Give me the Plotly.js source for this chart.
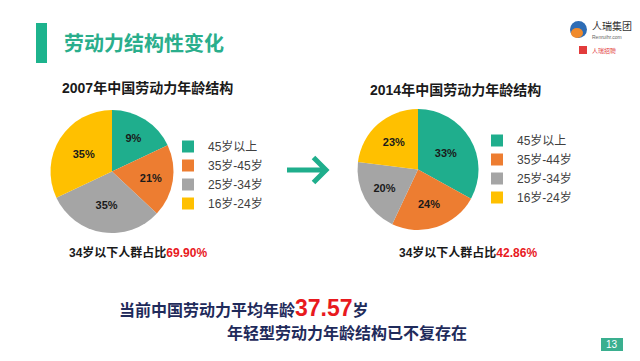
<!DOCTYPE html>
<html>
<head>
<meta charset="utf-8">
<script src="https://cdn.plot.ly/plotly-3.0.1.min.js"></script>
<style>
  html, body { margin: 0; padding: 0; background: #ffffff; }
  #chart { width: 640px; height: 361px; }
</style>
</head>
<body>
<div id="chart"></div>
<script>
// ---- data ----
const pageTitle = '劳动力结构性变化';
const title2007 = '2007年中国劳动力年龄结构';
const title2014 = '2014年中国劳动力年龄结构';
const ageGroups2007 = ['45岁以上', '35岁-45岁', '25岁-34岁', '16岁-24岁'];
const ageGroups2014 = ['45岁以上', '35岁-44岁', '25岁-34岁', '16岁-24岁'];
// slice sizes as drawn in the picture
const share2007 = [18, 19, 31, 32];
const share2014 = [33, 24, 20, 23];
// labels as printed on the slices
const labels2007 = ['9%', '21%', '35%', '35%'];
const labels2014 = ['33%', '24%', '20%', '23%'];
const youngPrefix = '34岁以下人群占比';
const youngShare2007 = '69.90%';
const youngShare2014 = '42.86%';
const avgAgeText = '当前中国劳动力平均年龄';
const avgAge = '37.57';
const ageUnit = '岁';
const conclusion = '年轻型劳动力年龄结构已不复存在';
const pageNumber = '13';

// ---- styles ----
const sliceColors = ['#1fae8d', '#ed7d31', '#a5a5a5', '#ffc000'];
const green = '#2aae8c';
const red = '#e8191e';
const navy = '#1f2b5b';
const FONT = 'Liberation Sans, Arial, Noto Sans CJK SC, sans-serif';
const CJK = 'Noto Sans CJK SC, Liberation Sans, sans-serif';
const W = 640, H = 361;
const px = v => v / W;
const py = v => 1 - v / H;

const pieCommon = {
  type: 'pie',
  sort: false,
  direction: 'clockwise',
  rotation: 0,
  textinfo: 'text',
  textposition: 'inside',
  insidetextorientation: 'horizontal',
  textfont: { family: FONT, size: 11, color: '#1a1a1a', weight: 'bold' },
  marker: { colors: sliceColors, line: { width: 0 } },
  hoverinfo: 'label+text',
  showlegend: true
};

// the second chart gets its own legend entries (zero-width suffix keeps labels distinct)
const legendLabels2014 = ageGroups2014.map(s => s + '\u200b');

const traces = [
  Object.assign({}, pieCommon, {
    labels: ageGroups2007, values: share2007, text: labels2007,
    domain: { x: [px(50.5), px(173.5)], y: [py(233), py(110)] },
    legend: 'legend'
  }),
  Object.assign({}, pieCommon, {
    labels: legendLabels2014, values: share2014, text: labels2014,
    domain: { x: [px(357.5), px(478.5)], y: [py(230), py(109)] },
    legend: 'legend2'
  })
];

const legendCommon = {
  font: { family: FONT, size: 12, color: '#404040' },
  bgcolor: 'rgba(0,0,0,0)',
  xanchor: 'left', yanchor: 'top',
  tracegroupgap: 0
};

const ann = (x, y, text, size, color, opts) => Object.assign({
  xref: 'paper', yref: 'paper', x: px(x), y: py(y), text: text,
  showarrow: false, xanchor: 'left', yanchor: 'middle',
  font: { family: CJK, size: size, color: color }
}, opts || {});

const annotations = [
  ann(62, 43, '<b>' + pageTitle + '</b>', 20, green),
  ann(60, 88, '<b>' + title2007 + '</b>', 14, '#1a1a1a', { font: { family: FONT, size: 14, color: '#1a1a1a' } }),
  ann(368, 90, '<b>' + title2014 + '</b>', 14, '#1a1a1a', { font: { family: FONT, size: 14, color: '#1a1a1a' } }),
  ann(67, 252, '<b>' + youngPrefix + '<span style="color:' + red + '">' + youngShare2007 + '</span></b>', 12, '#1a1a1a', { font: { family: FONT, size: 12, color: '#1a1a1a' } }),
  ann(397, 252, '<b>' + youngPrefix + '<span style="color:' + red + '">' + youngShare2014 + '</span></b>', 12, '#1a1a1a', { font: { family: FONT, size: 12, color: '#1a1a1a' } }),
  ann(117, 308, '<b>' + avgAgeText + '<span style="color:' + red + ';font-size:23px">' + avgAge + '</span>' + ageUnit + '</b>', 16, navy, { font: { family: FONT, size: 16, color: navy } }),
  ann(225, 332, '<b>' + conclusion + '</b>', 16, navy),
  ann(612, 344.5, pageNumber, 10, '#ffffff', { xanchor: 'center', font: { family: FONT, size: 10, color: '#ffffff' } }),
  // logo texts
  ann(590, 25, '人瑞集团', 10, '#333333'),
  ann(590, 37, 'Renruihr.com', 5, '#666666', { font: { family: FONT, size: 5, color: '#666666' } }),
  ann(590, 50, '人瑞招聘', 6, '#e23b3b')
];

const shapes = [
  // title bar
  { type: 'rect', xref: 'paper', yref: 'paper', x0: px(36), x1: px(47), y0: py(63), y1: py(23), fillcolor: '#1db38d', line: { width: 0 } },
  // arrow
  { type: 'path', xref: 'paper', yref: 'paper',
    path: 'M' + px(287) + ',' + py(170) + 'L' + px(325) + ',' + py(170) +
          'M' + px(313.5) + ',' + py(157.5) + 'L' + px(326) + ',' + py(170) + 'L' + px(313.5) + ',' + py(182.5),
    line: { color: '#1fae8c', width: 5 } },
  // page number box
  { type: 'rect', xref: 'paper', yref: 'paper', x0: px(601), x1: px(623), y0: py(351), y1: py(338), fillcolor: '#3aaf8f', line: { width: 0 } },
  // logo icon
  { type: 'circle', xref: 'paper', yref: 'paper', x0: px(570), x1: px(587), y0: py(38), y1: py(21), fillcolor: '#2d6cb5', line: { width: 0 } },
  { type: 'circle', xref: 'paper', yref: 'paper', x0: px(571), x1: px(583), y0: py(38), y1: py(28), fillcolor: '#f08a2c', line: { width: 0 } },
  { type: 'rect', xref: 'paper', yref: 'paper', x0: px(579), x1: px(587), y0: py(54), y1: py(46), fillcolor: '#e23b3b', line: { width: 0 } }
];

const layout = {
  width: W, height: H,
  margin: { l: 0, r: 0, t: 0, b: 0 },
  paper_bgcolor: '#ffffff',
  plot_bgcolor: '#ffffff',
  font: { family: FONT },
  showlegend: true,
  legend: Object.assign({}, legendCommon, { x: px(168), y: py(132) }),
  legend2: Object.assign({}, legendCommon, { x: px(477), y: py(126) }),
  annotations: annotations,
  shapes: shapes
};

Plotly.newPlot('chart', traces, layout, { displayModeBar: false, staticPlot: true });
</script>
</body>
</html>
